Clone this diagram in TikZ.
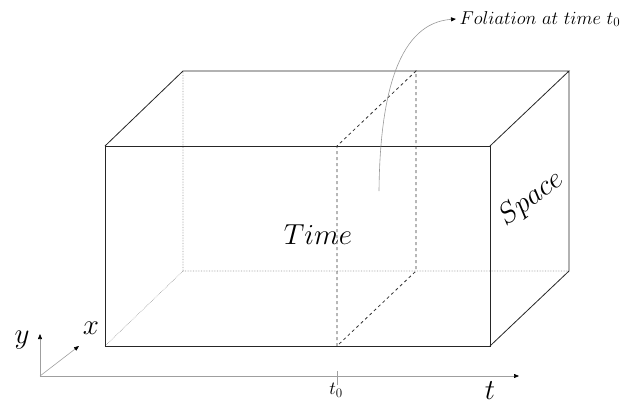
\RequirePackage{fix-cm}
\documentclass[tikz,border=0pt]{standalone}
\usetikzlibrary{arrows.meta}

\begin{document}
\begin{tikzpicture}[x=1pt,y=-1pt,>={Triangle[length=5pt,width=4pt,color=black]},
 edge/.style={line width=0.8pt,black!85},
 hidden/.style={densely dotted,gray!80,line width=0.6pt},
 slice/.style={dashed,line width=0.8pt,black!80},
 axis/.style={->,gray!75,line width=0.6pt},
 big/.style={font=\fontsize{29}{31}\selectfont},
 small/.style={font=\fontsize{18.6}{20}\selectfont}]
\useasboundingbox (0,0) rectangle (622,405);
% corners of the box
\coordinate (fbl) at (105,346); \coordinate (fbr) at (490,346);
\coordinate (ftr) at (490,146); \coordinate (ftl) at (105,146);
\coordinate (bbl) at (183,271); \coordinate (bbr) at (569,271);
\coordinate (btr) at (569,71);  \coordinate (btl) at (183,71);
% the slice at t0
\coordinate (sfb) at (337,346); \coordinate (sft) at (337,146);
\coordinate (sbb) at (416,271); \coordinate (sbt) at (416,71);
\draw[hidden] (fbl) -- (bbl) -- (bbr) (bbl) -- (btl);
\draw[edge] (fbl) rectangle (ftr);
\draw[edge] (ftl) -- (btl) -- (btr) -- (ftr) (btr) -- (bbr) -- (fbr);
\draw[slice] (sfb) -- (sft) -- (sbt) -- (sbb) -- cycle;
% axes
\coordinate (o) at (40,376);
\coordinate (yend) at (40,334); \coordinate (xend) at (79,346);
\coordinate (tend) at (519,376);
\coordinate (tick) at (337,376);
\draw[axis] (o) -- (yend);
\draw[axis] (o) -- (xend);
\draw[axis] (o) -- (tend);
\draw[gray!75,line width=0.6pt] ([yshift=-9pt]tick) -- ([yshift=5pt]tick);
\node[big] (ylab) at (22,340) {$y$};
\node[big] (xlab) at (91,328) {$x$};
\node[big] (tlab) at (490,391) {$t$};
\node[small] (t0lab) at (336,390) {$t_0$};
\node[big] (time) at (318,235) {$Time$};
\node[big,rotate=37,inner sep=0pt] (space) at (531,199) {$Space$};
\node[small,anchor=west] (fol) at (456,19) {$Foliation\ at\ time\ t_0$};
\coordinate (foot) at (379,191);
\draw[->,gray!80,line width=0.6pt] (foot) .. controls (380,90) and (400,23) .. (fol.west);
\end{tikzpicture}
\end{document}
